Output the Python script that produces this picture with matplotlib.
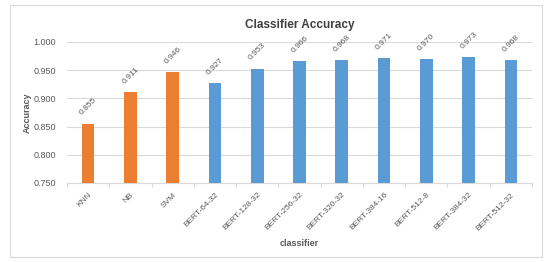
import numpy as np
import matplotlib.pyplot as plt
from matplotlib.patches import Rectangle

# data
classifiers = ["KNN", "NB", "SVM", "BERT-64-32", "BERT-128-32", "BERT-256-32",
               "BERT-320-32", "BERT-384-16", "BERT-512-8", "BERT-384-32", "BERT-512-32"]
accuracy = [0.855, 0.911, 0.946, 0.927, 0.953, 0.966, 0.968, 0.971, 0.970, 0.973, 0.968]
is_baseline = [True, True, True, False, False, False, False, False, False, False, False]

plt.rcParams['font.family'] = ['Liberation Sans', 'DejaVu Sans']
gray = '#595959'
orange = '#ED7D31'
blue = '#5B9BD5'

fig = plt.figure(figsize=(5.5, 2.62), dpi=100)
fig.patch.set_facecolor('white')
# outer chart border
fig.patches.append(Rectangle((10/550, 1 - 257/262), 532/550, 252/262,
                             transform=fig.transFigure, fill=False,
                             edgecolor='#D9D9D9', linewidth=0.8))

ax = fig.add_axes([67/550, 1 - 183/262, 465/550, 141/262])
x = np.arange(len(classifiers))
colors = [orange if b else blue for b in is_baseline]
bars = ax.bar(x, accuracy, width=0.3, color=colors, zorder=3)

for xi, v in zip(x, accuracy):
    ax.annotate(f"{v:.3f}", (xi, v), xytext=(0, 5), textcoords='offset points',
                ha='center', va='bottom', rotation=45, fontsize=6, color=gray)

ax.set_xlim(-0.5, len(classifiers) - 0.5)
ax.set_ylim(0.75, 1.0)
ax.set_yticks(np.arange(0.75, 1.001, 0.05))
ax.set_yticklabels([f"{t:.3f}" for t in np.arange(0.75, 1.001, 0.05)])
ax.yaxis.grid(True, color='#D9D9D9', linewidth=0.8, zorder=0)
ax.tick_params(axis='y', length=0, labelsize=6.5, labelcolor=gray, pad=8)

ax.set_xticks(x)
ax.set_xticklabels(classifiers, rotation=45, ha='right', rotation_mode='anchor')
ax.set_xticks(np.arange(-0.5, len(classifiers)), minor=True)
ax.tick_params(axis='x', which='major', length=0, labelsize=6, labelcolor=gray, pad=6)
ax.tick_params(axis='x', which='minor', length=3, color='#D9D9D9', width=0.8)

for s in ['top', 'right', 'left']:
    ax.spines[s].set_visible(False)
ax.spines['bottom'].set_color('#D9D9D9')
ax.spines['bottom'].set_linewidth(0.8)

ax.set_title("Classifier Accuracy", fontsize=8.5, fontweight='bold', color='#404040', pad=10)
ax.set_xlabel("classifier", fontsize=6.5, fontweight='bold', color=gray)
ax.xaxis.set_label_coords(0.5, -0.4)
ax.set_ylabel("Accuracy", fontsize=6.5, fontweight='bold', color=gray)
ax.yaxis.set_label_coords(-0.075, 0.5)

fig.savefig("out.png", dpi=100)
